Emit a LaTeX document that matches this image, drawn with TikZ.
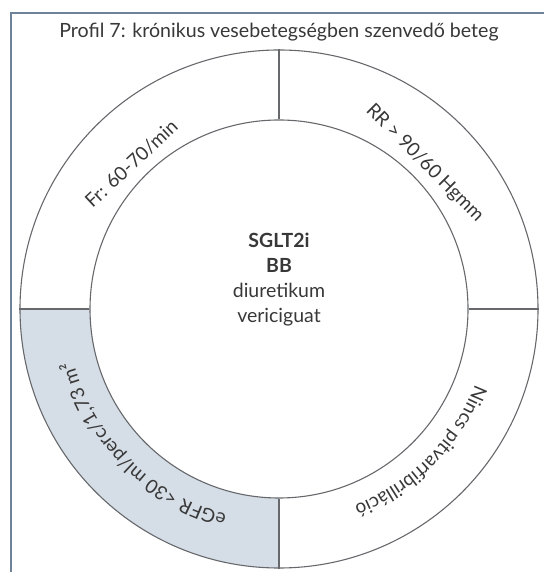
\documentclass[tikz,border=0pt]{standalone}
\usepackage{fontspec}
\setmainfont{Lato}
\usetikzlibrary{decorations.text}
\definecolor{framec}{HTML}{6F8398}
\definecolor{ringc}{HTML}{66686C}
\definecolor{shadec}{HTML}{D5DDE6}
\definecolor{txt}{HTML}{383838}
\begin{document}
\begin{tikzpicture}[x=1pt,y=1pt,
  ring/.style={circle,draw=ringc,line width=1.1pt,inner sep=0pt},
  divider/.style={draw=ringc,line width=1.1pt},
  ringtext/.style={text=txt,font=\fontsize{19}{22}\selectfont},
  centertext/.style={text=txt,font=\fontsize{19.5}{25}\selectfont,align=center}]
\useasboundingbox (0,0) rectangle (544,572);
% frame (top and left edges visible)
\coordinate (ftl) at (11,559);
\coordinate (ftr) at (544,559);
\coordinate (fbl) at (11,0);
\draw[framec,line width=1.5pt] (ftr) -- (ftl) -- (fbl);
\node[text=txt,font=\fontsize{19.6}{22}\selectfont] (title) at (279,540) {Profil 7: krónikus vesebetegségben szenvedő beteg};
\coordinate (O) at (279,263);
% shaded quadrant
\fill[shadec] (O) ++(180:259) arc[start angle=180,end angle=270,radius=259]
  -- ++(0,70) arc[start angle=270,end angle=180,radius=189] -- cycle;
\node[ring,minimum size=518pt] (outer) at (O) {};
\node[ring,minimum size=378pt] (inner) at (O) {};
\draw[divider] (outer.north) -- (inner.north);
\draw[divider] (outer.south) -- (inner.south);
\draw[divider] (outer.west) -- (inner.west);
\draw[divider] (outer.east) -- (inner.east);
% ring texts
\node[ringtext,rotate=43] (fr) at ([shift={(135.5:207)}]O) {Fr: 60-70/min};
\node[ringtext,rotate=-45] (rr) at ([shift={(45:206)}]O) {RR > 90/60 Hgmm};
\path[decorate,decoration={text along path,text align=center,
  text={|\color{txt}\fontsize{19}{22}\selectfont|Nincs pitvarfibrilláció}}]
  ([shift={(359:210)}]O) arc[start angle=359,end angle=271,radius=210];
\path[decorate,decoration={text along path,text align=center,
  text={|\color{txt}\fontsize{19}{22}\selectfont|eGFR <30 ml/perc/1,73 m²}}]
  ([shift={(269:212)}]O) arc[start angle=269,end angle=181,radius=212];
% centre
\node[centertext] (centre) at (279,292) {\textbf{SGLT2i}\\\textbf{BB}\\diuretikum\\vericiguat};
\end{tikzpicture}
\end{document}
